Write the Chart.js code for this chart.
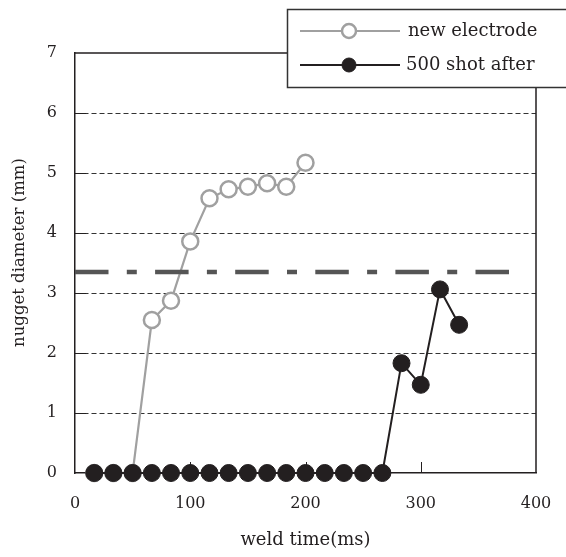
<!DOCTYPE html>
<html>
<head>
<meta charset="utf-8">
<script src="https://cdn.jsdelivr.net/npm/chart.js@4.4.1/dist/chart.umd.min.js"></script>
<style>
  html, body { margin: 0; padding: 0; background: #ffffff; }
  #wrap { width: 566px; height: 557px; position: relative; }
</style>
</head>
<body>
<div id="wrap"><canvas id="c" width="566" height="557"></canvas></div>
<script>
// ---- data ----
const newElectrodeTime = [16.7, 33.3, 50, 66.7, 83.3, 100, 116.7, 133.3, 150, 166.7, 183.3, 200];
const newElectrodeDiameter = [0, 0, 0, 2.55, 2.87, 3.86, 4.58, 4.73, 4.77, 4.83, 4.77, 5.17];

const shotAfterTime = [16.7, 33.3, 50, 66.7, 83.3, 100, 116.7, 133.3, 150, 166.7, 183.3, 200, 216.7, 233.3, 250, 266.7, 283.3, 300, 316.7, 333.3];
const shotAfterDiameter = [0, 0, 0, 0, 0, 0, 0, 0, 0, 0, 0, 0, 0, 0, 0, 0, 1.83, 1.47, 3.06, 2.47];

const thresholdTime = [0, 381];
const thresholdDiameter = [3.35, 3.35];

const xTicks = [0, 100, 200, 300, 400];
const yTicks = [0, 1, 2, 3, 4, 5, 6, 7];

const seriesNames = ['new electrode', '500 shot after'];
const xTitle = 'weld time(ms)';
const yTitle = '\u00a0\u00a0\u00a0\u00a0nugget diameter (mm)';

// ---- styles ----
const FONT = '"DejaVu Serif", serif';
const TEXT = '#231f20';
const GRAY = '#a0a0a0';
const BLACK = '#231f20';

const toXY = (xs, ys) => xs.map((x, i) => ({ x: x, y: ys[i] }));

const framePlugin = {
  id: 'frame',
  afterDraw(chart) {
    const ctx = chart.ctx;
    const a = chart.chartArea;
    const xs = chart.scales.x, ys = chart.scales.y;
    ctx.save();
    ctx.strokeStyle = BLACK;
    ctx.lineWidth = 1.5;
    ctx.setLineDash([]);
    // top and right border
    ctx.beginPath();
    ctx.moveTo(a.left, a.top);
    ctx.lineTo(a.right, a.top);
    ctx.lineTo(a.right, a.bottom);
    ctx.stroke();
    // inward ticks
    ctx.lineWidth = 1;
    yTicks.forEach(v => {
      if (v === yTicks[0] || v === yTicks[yTicks.length - 1]) return;
      const py = Math.round(ys.getPixelForValue(v)) + 0.5;
      ctx.beginPath(); ctx.moveTo(a.left, py); ctx.lineTo(a.left + 11, py); ctx.stroke();
    });
    xTicks.forEach(v => {
      if (v === xTicks[0] || v === xTicks[xTicks.length - 1]) return;
      const px = Math.round(xs.getPixelForValue(v)) + 0.5;
      ctx.beginPath(); ctx.moveTo(px, a.bottom); ctx.lineTo(px, a.bottom - 11); ctx.stroke();
    });

    // legend box
    const bx = 287.5, by = 9.5, bw = 300, bh = 78;
    ctx.fillStyle = '#ffffff';
    ctx.fillRect(bx, by, bw, bh);
    ctx.strokeStyle = '#333333';
    ctx.lineWidth = 1.5;
    ctx.strokeRect(bx, by, bw, bh);

    const ds = chart.data.datasets;
    const rows = [
      { y: 31, ds: ds[0], textX: 408 },
      { y: 65, ds: ds[1], textX: 406 }
    ];
    rows.forEach(r => {
      ctx.strokeStyle = r.ds.borderColor;
      ctx.lineWidth = 2;
      ctx.beginPath(); ctx.moveTo(300, r.y); ctx.lineTo(400, r.y); ctx.stroke();
      ctx.beginPath();
      ctx.arc(349, r.y, 7, 0, Math.PI * 2);
      ctx.fillStyle = r.ds.pointBackgroundColor;
      ctx.fill();
      ctx.lineWidth = r.ds.pointBorderWidth;
      ctx.strokeStyle = r.ds.pointBorderColor;
      ctx.stroke();
      ctx.fillStyle = TEXT;
      ctx.font = '18px ' + FONT;
      ctx.textBaseline = 'middle';
      ctx.textAlign = 'left';
      ctx.fillText(r.ds.label, r.textX, r.y);
    });
    ctx.restore();
  }
};

new Chart(document.getElementById('c'), {
  type: 'line',
  data: {
    datasets: [
      {
        label: seriesNames[0],
        data: toXY(newElectrodeTime, newElectrodeDiameter),
        borderColor: GRAY,
        borderWidth: 2.2,
        pointRadius: 8,
        pointBackgroundColor: '#ffffff',
        pointBorderColor: GRAY,
        pointBorderWidth: 2.5,
        clip: false,
        order: 2
      },
      {
        label: seriesNames[1],
        data: toXY(shotAfterTime, shotAfterDiameter),
        borderColor: BLACK,
        borderWidth: 2,
        pointRadius: 8.5,
        pointBackgroundColor: BLACK,
        pointBorderColor: BLACK,
        pointBorderWidth: 1,
        clip: false,
        order: 0
      },
      {
        label: 'threshold',
        data: toXY(thresholdTime, thresholdDiameter),
        borderColor: '#555555',
        borderWidth: 4.7,
        borderDash: [33.5, 18.3, 10, 18.3],
        borderCapStyle: 'butt',
        pointRadius: 0,
        clip: false,
        order: 1
      }
    ]
  },
  options: {
    responsive: false,
    animation: false,
    devicePixelRatio: 1,
    layout: { autoPadding: false, padding: { top: 53, right: 30, bottom: 0, left: 0 } },
    plugins: { legend: { display: false }, tooltip: { enabled: false } },
    scales: {
      x: {
        type: 'linear',
        min: xTicks[0],
        max: xTicks[xTicks.length - 1],
        afterBuildTicks: s => { s.ticks = xTicks.map(v => ({ value: v })); },
        afterFit: s => { s.height = 84; s.paddingLeft = 0; s.paddingRight = 0; },
        grid: { display: false, drawTicks: false },
        border: { display: true, color: BLACK, width: 1.5 },
        ticks: { padding: 21, color: TEXT, font: { family: FONT, size: 16 } },
        title: { display: true, text: xTitle, color: TEXT, font: { family: FONT, size: 18 }, padding: { top: 0, bottom: 6 } }
      },
      y: {
        type: 'linear',
        min: yTicks[0],
        max: yTicks[yTicks.length - 1],
        afterBuildTicks: s => { s.ticks = yTicks.map(v => ({ value: v })); },
        afterFit: s => { s.width = 75; s.paddingTop = 0; s.paddingBottom = 0; },
        grid: {
          drawTicks: false,
          color: c => (c.tick && (c.tick.value === yTicks[0] || c.tick.value === yTicks[yTicks.length - 1])) ? 'rgba(0,0,0,0)' : '#333333',
          lineWidth: 1
        },
        border: { display: true, color: BLACK, width: 1.5, dash: [5, 3] },
        ticks: { padding: 18, color: TEXT, font: { family: FONT, size: 16 } },
        title: { display: true, text: yTitle, color: TEXT, font: { family: FONT, size: 16.5 }, padding: { top: 10, bottom: 0 } }
      }
    }
  },
  plugins: [framePlugin]
});
</script>
</body>
</html>
